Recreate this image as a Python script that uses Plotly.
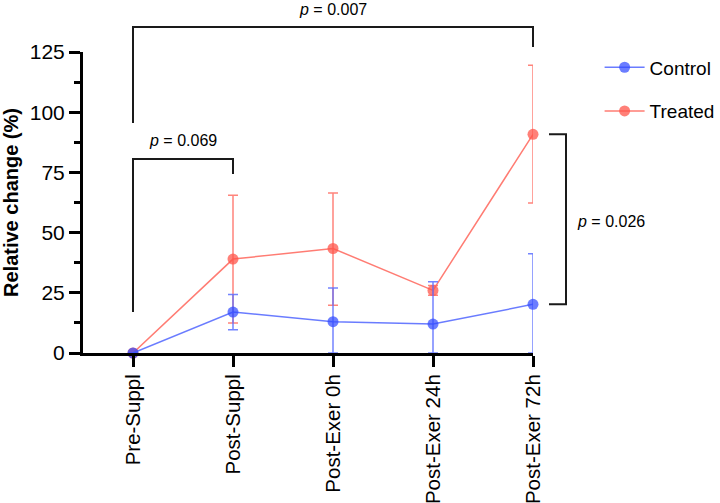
import plotly.graph_objects as go

categories = ["Pre-Suppl", "Post-Suppl", "Post-Exer 0h", "Post-Exer 24h", "Post-Exer 72h"]
control_mean = [0, 17, 13, 12, 20.2]
control_err_plus = [0, 7.3, 14, 17.6, 21]
control_err_minus = [0, 7.3, 13, 12, 20.2]
treated_mean = [0, 39, 43.4, 26, 90.8]
treated_err_plus = [0, 26.5, 23, 2, 28.7]
treated_err_minus = [0, 26.5, 23.6, 2, 28.5]
y_ticks = [0, 25, 50, 75, 100, 125]

# significance brackets: (x_left, x_right, bar_y, left_leg_bottom, right_leg_bottom, label, label_y)
brackets_h = [
    (0, 4, 135.4, 95.5, 127.1, "0.007", 142.8),
    (0, 1, 80.6, 17.0, 74.3, "0.069", 88.3),
]
bracket_v = (4.16, 4.33, treated_mean[4], control_mean[4], "0.026")

XMIN, XMAX = -0.5, 4.0
YMIN, YMAX = 0, 125

def px(x):
    return (x - XMIN) / (XMAX - XMIN)

def py(y):
    return (y - YMIN) / (YMAX - YMIN)

FONT = "Liberation Sans, Arial, Helvetica, sans-serif"
xs = list(range(len(categories)))

fig = go.Figure()
fig.add_trace(go.Scatter(
    x=xs, y=treated_mean, name="Treated", mode="lines+markers",
    line=dict(color="rgba(255,110,100,0.9)", width=1.5),
    marker=dict(size=11, color="rgba(255,85,75,0.75)", line=dict(width=0)),
    error_y=dict(type="data", array=treated_err_plus, arrayminus=treated_err_minus,
                 color="rgba(255,110,100,0.85)", thickness=1.5, width=5),
    cliponaxis=False, legendgroup="t", legendrank=2,
))
fig.add_trace(go.Scatter(
    x=xs, y=control_mean, name="Control", mode="lines+markers",
    line=dict(color="rgba(90,110,255,0.9)", width=1.5),
    marker=dict(size=11, color="rgba(50,75,255,0.72)", line=dict(width=0)),
    error_y=dict(type="data", array=control_err_plus, arrayminus=control_err_minus,
                 color="rgba(90,110,255,0.85)", thickness=1.5, width=5),
    cliponaxis=False, legendgroup="c", legendrank=1,
))

shapes = []
annotations = []
LC = "#1a1a1a"
for x0, x1, yb, yl, yr, lab, ty in brackets_h:
    shapes.append(dict(type="path", xref="paper", yref="paper",
                       path=f"M {px(x0)} {py(yl)} L {px(x0)} {py(yb)} L {px(x1)} {py(yb)} L {px(x1)} {py(yr)}",
                       line=dict(color=LC, width=2)))
    annotations.append(dict(xref="paper", yref="paper", x=px((x0 + x1) / 2), y=py(ty),
                            text=f"<i>p</i> = {lab}", showarrow=False,
                            font=dict(size=16, color="black", family=FONT),
                            xanchor="center", yanchor="middle"))
bx0, bx1, yt, yb2, lab = bracket_v
shapes.append(dict(type="path", xref="paper", yref="paper",
                   path=f"M {px(bx0)} {py(yt)} L {px(bx1)} {py(yt)} L {px(bx1)} {py(yb2)} L {px(bx0)} {py(yb2)}",
                   line=dict(color=LC, width=2)))
annotations.append(dict(xref="paper", yref="paper", x=px(bx1 + 0.09), y=py((yt + yb2) / 2 - 0.8),
                        text=f"<i>p</i> = {lab}", showarrow=False,
                        font=dict(size=16, color="black", family=FONT),
                        xanchor="left", yanchor="middle"))

fig.update_layout(
    width=720, height=503,
    margin=dict(l=83, r=187, t=52, b=150, autoexpand=False),
    paper_bgcolor="white", plot_bgcolor="white",
    font=dict(family=FONT, size=20, color="black"),
    showlegend=True,
    legend=dict(x=1.148, y=1.012, xanchor="left", yanchor="top",
                font=dict(size=19), traceorder="grouped", tracegroupgap=16,
                itemwidth=40, bgcolor="rgba(0,0,0,0)"),
    shapes=shapes,
    annotations=annotations,
    xaxis=dict(
        range=[XMIN, XMAX], tickvals=xs, ticktext=categories, tickangle=-90,
        showline=True, linewidth=3, linecolor="black", mirror=False,
        ticks="outside", ticklen=11, tickwidth=3, tickcolor="black",
        showgrid=False, zeroline=False, tickfont=dict(size=20.5), automargin=False,
        ticklabelstandoff=-1,
    ),
    yaxis=dict(
        range=[YMIN, YMAX], tickvals=y_ticks,
        showline=True, linewidth=3, linecolor="black",
        ticks="outside", ticklen=11, tickwidth=3, tickcolor="black",
        minor=dict(dtick=12.5, tick0=0, ticks="outside", ticklen=6, tickwidth=3, tickcolor="black"),
        showgrid=False, zeroline=False, tickfont=dict(size=21), automargin=False,
        title=dict(text="<b>Relative change (%)</b>", font=dict(size=20), standoff=8),
    ),
)

fig.write_html("out.html", config={"displayModeBar": False},
               post_script="document.body.style.margin='0';document.body.style.padding='0';")
